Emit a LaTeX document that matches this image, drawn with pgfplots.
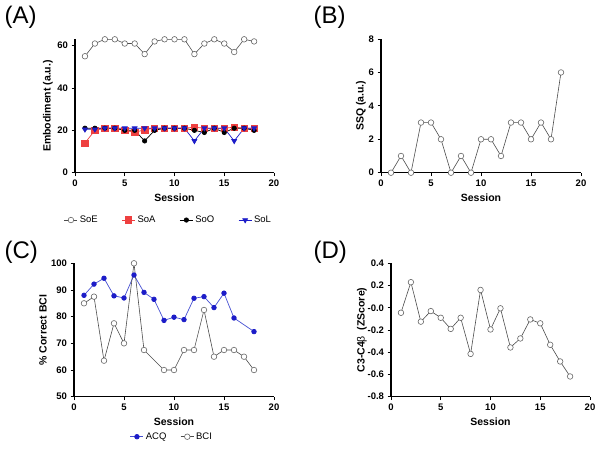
\documentclass[border=0pt]{standalone}
\usepackage{pgfplots}
\pgfplotsset{compat=1.18}
\usepackage{fontspec}
\setmainfont{Liberation Sans}
\definecolor{gpred}{RGB}{238,64,64}
\definecolor{gpblue}{RGB}{28,28,200}
\definecolor{gpblueline}{RGB}{70,80,210}
\pgfplotsset{
  gp/.style={
    scale only axis,
    axis x line*=bottom, axis y line*=left,
    axis line style={line width=1.1pt,-},
    tick style={line width=0.9pt, black},
    tick align=outside, major tick length=3.5pt,
    xmin=0, xmax=20, xtick={0,5,10,15,20},
    tick label style={font=\fontsize{9.5}{10}\selectfont\bfseries},
    label style={font=\fontsize{10.5}{12}\selectfont\bfseries},
    /pgf/number format/assume math mode=true,
    clip=false,
    xlabel={Session},
    xlabel style={at={(axis description cs:0.5,-0.187)},anchor=center},
    legend style={draw=none, fill=none, font=\fontsize{9.5}{11}\selectfont},
    legend image code/.code={\draw[mark repeat=2,mark phase=2] plot coordinates {(0cm,0cm) (0.23cm,0cm) (0.46cm,0cm)};},
  },
  opencirc/.style={black!70, line width=0.6pt, mark=*, mark size=2.8pt,
    mark options={fill=white, draw=black!60, line width=0.6pt}},
}
\begin{document}
\begin{tikzpicture}
\useasboundingbox (0,0) rectangle (600pt,454pt);
% Panel labels
\node[anchor=west, font=\fontsize{24}{26}\selectfont] at (1pt,437pt) {(A)};
\node[anchor=west, font=\fontsize{24}{26}\selectfont] at (310pt,437pt) {(B)};
\node[anchor=west, font=\fontsize{24}{26}\selectfont] at (1pt,202pt) {(C)};
\node[anchor=west, font=\fontsize{24}{26}\selectfont] at (310pt,202pt) {(D)};

% (A)
\begin{axis}[gp, at={(75pt,281.3pt)}, anchor=south west, width=199pt, height=133.4pt,
  ymin=0, ymax=63, ytick={0,20,40,60},
  ylabel={Embodiment (a.u.)},
  ylabel style={at={(axis description cs:-0.136,0.5)},anchor=center},
  legend columns=4,
  legend style={at={(axis description cs:0.47,-0.355)}, anchor=center,
    /tikz/every even column/.append style={column sep=22pt}}]
\addplot[opencirc] coordinates {(1,55)(2,61)(3,63)(4,63)(5,61)(6,61)(7,56)(8,62)(9,63)(10,63)(11,63)(12,56)(13,61)(14,63)(15,61)(16,57)(17,63)(18,62)};
\addlegendentry{SoE\hspace{14pt}}
\addplot[gpred, line width=0.7pt, mark=square*, mark size=3.2pt, mark options={fill=gpred, draw=gpred}] coordinates {(1,14)(2,20)(3,21)(4,21)(5,20)(6,19)(7,20.3)(8,21)(9,21)(10,21)(11,21)(12,21.5)(13,21)(14,21)(15,21)(16,21.5)(17,21)(18,21)};
\addlegendentry{SoA}
\addplot[black, line width=0.7pt, mark=*, mark size=2.2pt] coordinates {(1,21)(2,21)(3,21)(4,21)(5,20)(6,20)(7,15)(8,20)(9,21)(10,21)(11,21)(12,20)(13,19)(14,21)(15,19)(16,21)(17,21)(18,20)};
\addlegendentry{SoO}
\addplot[gpblue, line width=0.7pt, mark=triangle*, mark size=2.8pt, mark options={rotate=180, fill=gpblue, draw=gpblue}] coordinates {(1,20.5)(2,20.5)(3,21)(4,21)(5,21)(6,21)(7,21)(8,21)(9,21)(10,21)(11,21)(12,15)(13,21)(14,21)(15,21)(16,15)(17,21)(18,21)};
\addlegendentry{SoL}
\end{axis}

% (B)
\begin{axis}[gp, at={(381pt,281.3pt)}, anchor=south west, width=200pt, height=133.7pt,
  ymin=0, ymax=8, ytick={0,2,4,6,8},
  ylabel={SSQ (a.u.)},
  ylabel style={at={(axis description cs:-0.10,0.5)},anchor=center}]
\addplot[opencirc] coordinates {(1,0)(2,1)(3,0)(4,3)(5,3)(6,2)(7,0)(8,1)(9,0)(10,2)(11,2)(12,1)(13,3)(14,3)(15,2)(16,3)(17,2)(18,6)};
\end{axis}

% (C)
\begin{axis}[gp, at={(74pt,57.3pt)}, anchor=south west, width=200pt, height=133.4pt,
  ymin=50, ymax=100, ytick={50,60,70,80,90,100},
  ylabel={\% Correct BCI},
  ylabel style={at={(axis description cs:-0.155,0.5)},anchor=center},
  legend columns=2,
  legend style={at={(axis description cs:0.49,-0.30)}, anchor=center,
    /tikz/every even column/.append style={column sep=12pt}}]
\addplot[gpblueline, line width=0.7pt, mark=*, mark size=2.3pt, mark options={fill=gpblue, draw=gpblue}] coordinates {(1,88)(2,92.2)(3,94.4)(4,87.8)(5,87)(6,95.6)(7,89.1)(8,86.5)(9,78.6)(10,79.8)(11,78.9)(12,86.9)(13,87.5)(14,83.4)(15,88.8)(16,79.5)(18,74.4)};
\addlegendentry{ACQ}
\addplot[opencirc] coordinates {(1,85)(2,87.5)(3,63.5)(4,77.5)(5,70)(6,100)(7,67.5)(9,60)(10,60)(11,67.5)(12,67.5)(13,82.5)(14,65)(15,67.5)(16,67.5)(17,65)(18,60)};
\addlegendentry{BCI}
\end{axis}

% (D)
\begin{axis}[gp, at={(391pt,57.3pt)}, anchor=south west, width=199pt, height=133.4pt,
  ymin=-0.8, ymax=0.4, ytick={-0.8,-0.6,-0.4,-0.2,0,0.2,0.4},
  yticklabels={-0.8,-0.6,-0.4,-0.2,-0.0,0.2,0.4},
  ylabel={C3-C4{\mdseries β}\ \ (ZScore)},
  ylabel style={at={(axis description cs:-0.146,0.5)},anchor=center}]
\addplot[opencirc] coordinates {(1,-0.045)(2,0.23)(3,-0.125)(4,-0.03)(5,-0.09)(6,-0.19)(7,-0.09)(8,-0.415)(9,0.16)(10,-0.195)(11,-0.005)(12,-0.357)(13,-0.276)(14,-0.105)(15,-0.14)(16,-0.333)(17,-0.483)(18,-0.618)};
\end{axis}
\end{tikzpicture}
\end{document}
